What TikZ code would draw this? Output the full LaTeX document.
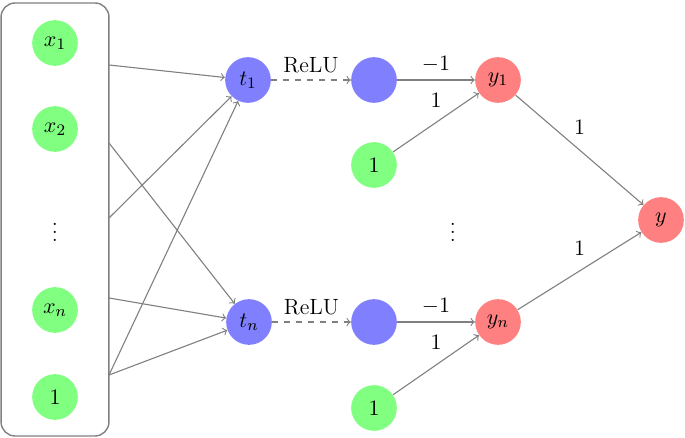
\documentclass[tikz,border=0pt]{standalone}
\usepackage{xcolor}
\usepackage{tikz}
\usetikzlibrary{positioning, calc, arrows}

\begin{document}
\begin{tikzpicture}[x=0.017518cm, y=-0.017518cm,
  font=\fontsize{11}{13}\selectfont,
  neu/.style={circle, minimum size=0.8cm, inner sep=0pt},
  inp/.style={neu, fill=green!50},
  hid/.style={neu, fill=blue!50},
  outp/.style={neu, fill=red!50},
  wt/.style={->, draw=gray, line width=0.55pt}
]
  \useasboundingbox (0,0) rectangle (685,438);

  % input box
  \node[draw=gray, rounded corners=7pt, minimum width=1.89cm,
        minimum height=7.585cm, line width=0.7pt] (box) at (55,219.5) {};
  \node[inp] (x1) at (55,43) {$x_1$};
  \node[inp] (x2) at (55,129) {$x_2$};
  \node (xd) at (55,226) {$\vdots$};
  \node[inp] (xn) at (55,310) {$x_n$};
  \node[inp] (x0) at (55,397) {$1$};

  \coordinate (e1) at (109,65);
  \coordinate (e2) at (109,143);
  \coordinate (ed) at (109,218);
  \coordinate (en) at (109,298);
  \coordinate (e0) at (109,375);

  % hidden layer
  \node[hid] (t1) at (248,80) {$t_1$};
  \node[hid] (tn) at (249,322) {$t_n$};
  \node[hid] (h1) at (374,80) {};
  \node[hid] (hn) at (374,322) {};
  \node[inp] (b1) at (374,165) {$1$};
  \node[inp] (bn) at (374,408) {$1$};
  \node (hd) at (453,226) {$\vdots$};

  % outputs
  \node[outp] (y1) at (498,80) {$y_1$};
  \node[outp] (yn) at (498,322) {$y_n$};
  \node[outp] (y) at (661,220) {$y$};

  \draw[wt] (e1) -- (t1);
  \draw[wt] (e2) -- (tn);
  \draw[wt] (ed) -- (t1);
  \draw[wt] (en) -- (tn);
  \draw[wt] (e0) -- (t1);
  \draw[wt] (e0) -- (tn);

  \draw[wt, dashed] (t1) -- node[above] {ReLU} (h1);
  \draw[wt, dashed] (tn) -- node[above] {ReLU} (hn);
  \draw[wt] (h1) -- node[above] {$-1$} (y1);
  \draw[wt] (hn) -- node[above] {$-1$} (yn);
  \draw[wt] (b1) -- node[above, yshift=4pt] {$1$} (y1);
  \draw[wt] (bn) -- node[above, yshift=4pt] {$1$} (yn);
  \draw[wt] (y1) -- node[above, yshift=4pt] {$1$} (y);
  \draw[wt] (yn) -- node[above, yshift=4pt] {$1$} (y);
\end{tikzpicture}
\end{document}
